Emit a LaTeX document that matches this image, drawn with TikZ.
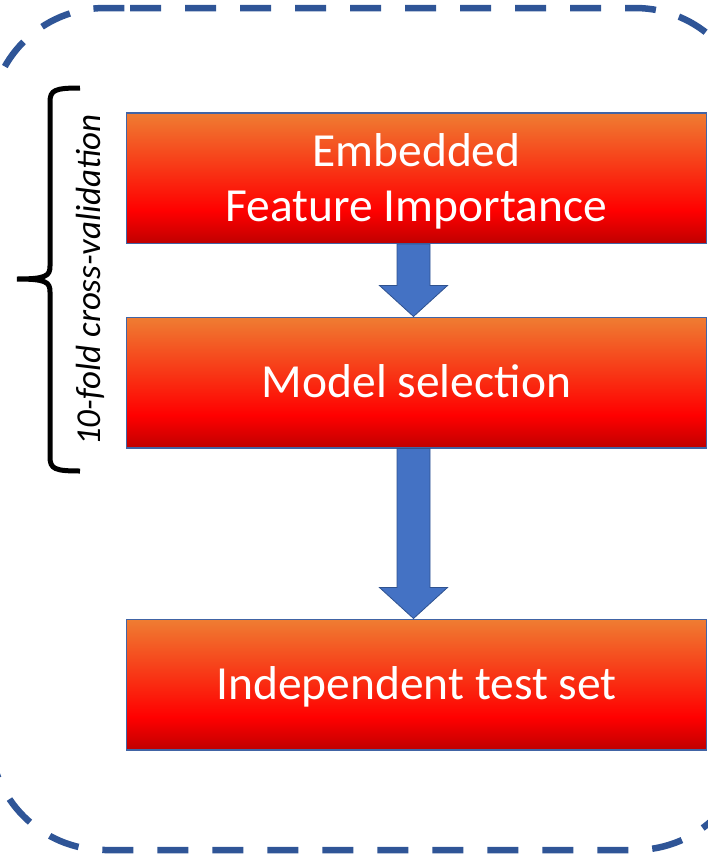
\documentclass[tikz,border=0pt]{standalone}
\usepackage{fontspec}
\setmainfont{Carlito}
\usetikzlibrary{calc}

\definecolor{frameblue}{RGB}{47,85,151}
\definecolor{boxedge}{RGB}{65,100,165}
\definecolor{arrowfill}{RGB}{68,114,196}
\definecolor{arrowedge}{RGB}{47,82,143}
\definecolor{gradtop}{RGB}{239,125,50}
\definecolor{gradmid}{RGB}{255,0,0}
\definecolor{gradbot}{RGB}{192,0,0}

% orange at the top, pure red three quarters down, dark red at the bottom
\pgfdeclareverticalshading{boxgrad}{100bp}{%
  color(0bp)=(gradbot); color(25bp)=(gradbot); color(37.5bp)=(gradmid);
  color(75bp)=(gradtop); color(100bp)=(gradtop)}

\tikzset{
  stagebox/.style={draw=boxedge, line width=1.5pt, shade, shading=boxgrad,
    minimum width=580pt, minimum height=130.5pt, inner sep=0pt,
    text=white, font=\fontsize{47.5}{55}\selectfont, align=center},
  oneline/.style={text height=30pt, text depth=0pt},
  twoline/.style={text depth=0pt},
  blockarrow/.style={fill=arrowfill, draw=arrowedge, line width=0.8pt, line join=miter},
  framebox/.style={draw=frameblue, line width=6.5pt, dash pattern=on 31pt off 24pt},
  bracestroke/.style={draw=black, line width=5pt},
}

\begin{document}
\begin{tikzpicture}[x=1pt, y=-1pt]
\useasboundingbox (0,0) rectangle (708,855);

% dashed outer frame, running past the page edges at left and right
\begin{scope}
  \clip (0,0) rectangle (708,855);
  \draw[framebox] (130,8) -- (635,8)
    arc[start angle=-90, end angle=0, radius=115] -- (750,735)
    arc[start angle=0, end angle=90, radius=115] -- (105,850)
    arc[start angle=90, end angle=180, radius=115] -- (-10,123)
    arc[start angle=180, end angle=270, radius=115] -- cycle;
\end{scope}

% stages
\node[stagebox, twoline] (b1) at (416.5,178) {Embedded\\Feature Importance};
\node[stagebox, oneline] (b2) at (416.5,382.5) {Model selection};
\node[stagebox, oneline] (b3) at (416.5,684.5) {Independent test set};

% block arrows between the stages
\foreach \from/\to in {b1/b2, b2/b3}{
  \draw[blockarrow]
    ($(\from.south)+(-19.5,0)$) -- ($(\to.north)+(-19.5,-31)$) --
    ($(\to.north)+(-37,-31)$) -- ($(\to.north)+(-3,0)$) --
    ($(\to.north)+(31,-31)$) -- ($(\to.north)+(13.5,-31)$) --
    ($(\from.south)+(13.5,0)$) -- cycle;
}

% curly brace spanning the cross-validated stages
\coordinate (bracetop) at (80,88);
\coordinate (bracetip) at (17,279);
\coordinate (bracebot) at (80,471);
\draw[bracestroke] (bracetop) .. controls (55,88) and (50,90) .. (50,102) -- (50,266)
  .. controls (50,276) and (46,279) .. (bracetip)
  .. controls (46,279) and (50,282) .. (50,292) -- (50,457)
  .. controls (50,469) and (55,471) .. (bracebot);

\node[rotate=90, anchor=base, font=\itshape\fontsize{35}{42}\selectfont] (cvlabel)
  at (100,280) {10-fold cross-validation};
\end{tikzpicture}
\end{document}
